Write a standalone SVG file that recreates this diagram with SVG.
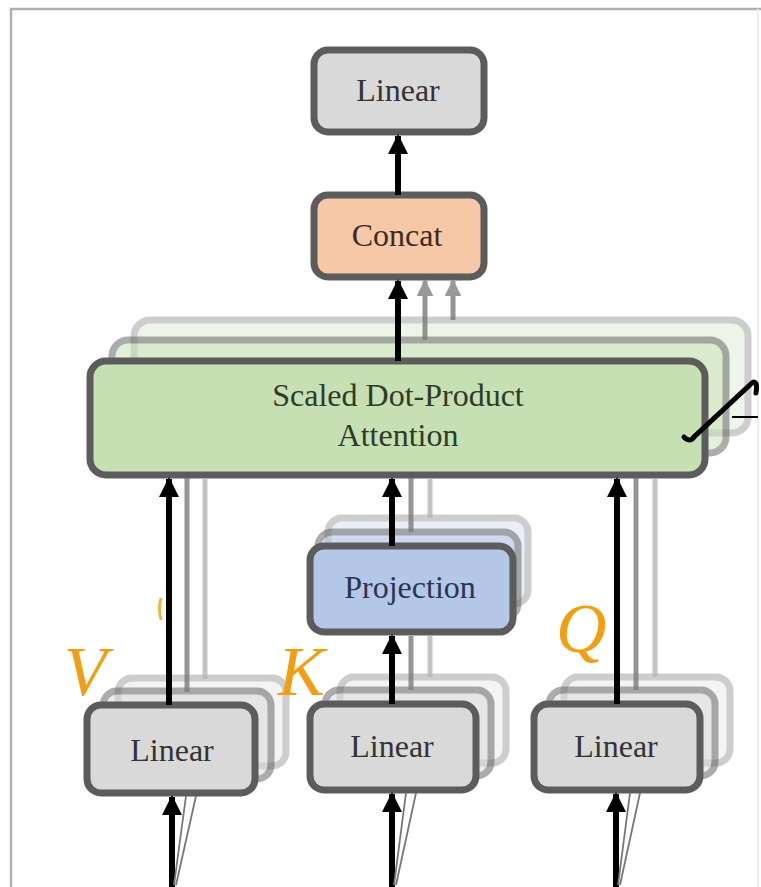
<svg xmlns="http://www.w3.org/2000/svg" width="761" height="887" viewBox="0 0 761 887">
<style>
.frame{fill:none;stroke:#b0b0b0;stroke-width:2.5}
.box{stroke:#5c5c5c;stroke-width:7}
.back1{opacity:0.5}
.back2{opacity:0.3}
.lin{fill:#d9d9d9}
.cat{fill:#f6c8a8}
.att{fill:#c6e0b4}
.proj{fill:#b4c7e7}
.blk{stroke:#000;stroke-width:6;fill:none}
.g1{stroke:#7a7a7a;stroke-width:5;fill:none;opacity:0.8}
.g2{stroke:#b5b5b5;stroke-width:5;fill:none;opacity:0.8}
.thin{stroke:#777;stroke-width:1.8;fill:none}
</style>
<defs>
<marker id="ah" viewBox="0 0 10 10" refX="9" refY="5" markerWidth="3.4" markerHeight="3.4" orient="auto" markerUnits="strokeWidth">
<path d="M0,0 L10,5 L0,10 z" fill="#000"/>
</marker>
<marker id="ahg" viewBox="0 0 10 10" refX="9" refY="5" markerWidth="3.4" markerHeight="3.4" orient="auto" markerUnits="strokeWidth">
<path d="M0,0 L10,5 L0,10 z" fill="#808080"/>
</marker>
</defs>
<rect width="761" height="887" fill="#fff"/>
<path class="frame" d="M11,887 V9 H761"/>
<line x1="758" y1="9" x2="758" y2="887" stroke="#ececec" stroke-width="2"/>

<g id="attention">
<rect class="box att back2" x="134" y="320" width="614" height="113" rx="16"/>
<rect class="box att back1" x="112" y="340" width="614" height="113" rx="16"/>
<rect class="box att" x="90" y="361" width="615" height="114" rx="16"/>
<text x="398" y="406" font-family="'Liberation Serif', 'Times New Roman', serif" font-size="32" text-anchor="middle" fill="#2e3b26">Scaled Dot-Product</text>
<text x="398" y="446" font-family="'Liberation Serif', 'Times New Roman', serif" font-size="32" text-anchor="middle" fill="#2e3b26">Attention</text>
<path d="M684,437 q6,6 10,0 L752,383 q6,-4 4,10" fill="none" stroke="#000" stroke-width="5" stroke-linecap="round"/>
<path d="M732,417 H758" stroke="#000" stroke-width="2" fill="none"/>
</g>

<g id="linear-top">
<rect class="box lin" x="314" y="50" width="170" height="82" rx="14"/>
<text x="398" y="101" font-family="'Liberation Serif', 'Times New Roman', serif" font-size="32" text-anchor="middle" fill="#333">Linear</text>
</g>

<g id="concat">
<rect class="box cat" x="314" y="195" width="170" height="82" rx="14"/>
<text x="397" y="246" font-family="'Liberation Serif', 'Times New Roman', serif" font-size="32" text-anchor="middle" fill="#3b2b1f">Concat</text>
</g>

<g id="projection">
<rect class="box proj back2" x="328" y="518" width="200" height="86" rx="14"/>
<rect class="box proj back1" x="318" y="532" width="200" height="86" rx="14"/>
<rect class="box proj" x="310" y="546" width="203" height="86" rx="14"/>
<text x="410" y="598" font-family="'Liberation Serif', 'Times New Roman', serif" font-size="32" text-anchor="middle" fill="#2a3550">Projection</text>
</g>

<g id="linear-v">
<rect class="box lin back2" x="118" y="678" width="168" height="88" rx="14"/>
<rect class="box lin back1" x="103" y="691" width="168" height="88" rx="14"/>
<rect class="box lin" x="87" y="705" width="168" height="88" rx="14"/>
<text x="172" y="761" font-family="'Liberation Serif', 'Times New Roman', serif" font-size="32" text-anchor="middle" fill="#333">Linear</text>
</g>

<g id="linear-k">
<rect class="box lin back2" x="340" y="677" width="166" height="86" rx="14"/>
<rect class="box lin back1" x="325" y="690" width="166" height="86" rx="14"/>
<rect class="box lin" x="310" y="704" width="166" height="86" rx="14"/>
<text x="392" y="757" font-family="'Liberation Serif', 'Times New Roman', serif" font-size="32" text-anchor="middle" fill="#333">Linear</text>
</g>

<g id="linear-q">
<rect class="box lin back2" x="564" y="677" width="166" height="86" rx="14"/>
<rect class="box lin back1" x="549" y="690" width="166" height="86" rx="14"/>
<rect class="box lin" x="534" y="704" width="166" height="86" rx="14"/>
<text x="616" y="757" font-family="'Liberation Serif', 'Times New Roman', serif" font-size="32" text-anchor="middle" fill="#333">Linear</text>
</g>

<g id="labels">
<text x="64" y="695" font-family="'Liberation Serif', 'Times New Roman', serif" font-style="italic" font-size="70" fill="#f29e12">V</text>
<path d="M161,598 q-3,10 0,22" stroke="#f29e12" stroke-width="3" fill="none" opacity="0.8"/>
<text x="278" y="695" font-family="'Liberation Serif', 'Times New Roman', serif" font-style="italic" font-size="70" fill="#f29e12">K</text>
<text x="556" y="652" font-family="'Liberation Serif', 'Times New Roman', serif" font-style="italic" font-size="70" fill="#f29e12">Q</text>
</g>

<g id="connectors">
<line class="blk" x1="398" y1="195" x2="398" y2="136" marker-end="url(#ah)"/>
<line class="blk" x1="398" y1="361" x2="398" y2="281" marker-end="url(#ah)"/>
<line class="g1" x1="425" y1="340" x2="425" y2="281" marker-end="url(#ahg)"/>
<line class="g1" x1="453" y1="320" x2="453" y2="281" marker-end="url(#ahg)"/>
<line class="blk" x1="169" y1="705" x2="169" y2="479" marker-end="url(#ah)"/>
<line class="g1" x1="187" y1="692" x2="187" y2="478"/>
<line class="g2" x1="205" y1="679" x2="205" y2="478"/>
<line class="blk" x1="392" y1="704" x2="392" y2="636" marker-end="url(#ah)"/>
<line class="g1" x1="411" y1="690" x2="411" y2="636"/>
<line class="g2" x1="430" y1="677" x2="430" y2="636"/>
<line class="blk" x1="392" y1="546" x2="392" y2="479" marker-end="url(#ah)"/>
<line class="g1" x1="411" y1="532" x2="411" y2="478"/>
<line class="g2" x1="430" y1="518" x2="430" y2="478"/>
<line class="blk" x1="617" y1="704" x2="617" y2="479" marker-end="url(#ah)"/>
<line class="g1" x1="636" y1="690" x2="636" y2="478"/>
<line class="g2" x1="655" y1="677" x2="655" y2="478"/>
<line class="blk" x1="172" y1="887" x2="172" y2="797" marker-end="url(#ah)"/>
<path class="thin" d="M174,885 L186,796 M176,885 L196,796"/>
<line class="blk" x1="392" y1="887" x2="392" y2="794" marker-end="url(#ah)"/>
<path class="thin" d="M394,885 L406,793 M396,885 L416,793"/>
<line class="blk" x1="616" y1="887" x2="616" y2="794" marker-end="url(#ah)"/>
<path class="thin" d="M618,885 L630,793 M620,885 L640,793"/>
</g>
</svg>
